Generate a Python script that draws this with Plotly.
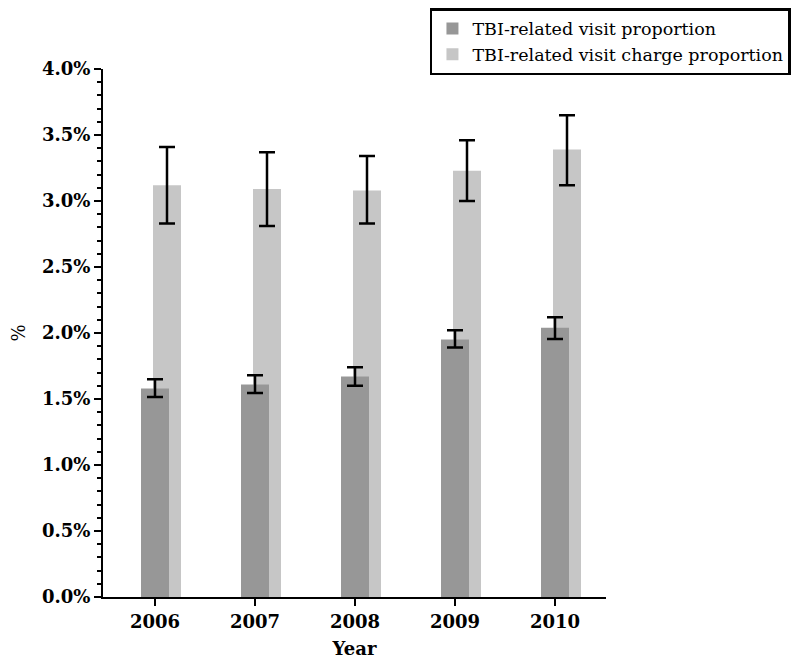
import plotly.graph_objects as go

years = ["2006", "2007", "2008", "2009", "2010"]
visit_prop = [1.58, 1.61, 1.67, 1.95, 2.04]
visit_err_plus = [0.07, 0.07, 0.07, 0.07, 0.08]
visit_err_minus = [0.065, 0.065, 0.07, 0.06, 0.085]
charge_prop = [3.12, 3.09, 3.08, 3.23, 3.39]
charge_err_plus = [0.29, 0.28, 0.26, 0.23, 0.26]
charge_err_minus = [0.29, 0.28, 0.25, 0.23, 0.27]
y_ticks = [0.0, 0.5, 1.0, 1.5, 2.0, 2.5, 3.0, 3.5, 4.0]
y_tick_labels = ["0.0%", "0.5%", "1.0%", "1.5%", "2.0%", "2.5%", "3.0%", "3.5%", "4.0%"]

serif = "DejaVu Serif"

fig = go.Figure()
fig.add_trace(go.Bar(
    x=years, y=charge_prop, name="TBI-related visit charge proportion",
    marker=dict(color="#c6c6c6", line=dict(width=0)),
    offset=-0.02, width=0.28, legendrank=2,
    error_y=dict(type="data", symmetric=False, array=charge_err_plus,
                 arrayminus=charge_err_minus, color="black", thickness=2.5, width=8),
))
fig.add_trace(go.Bar(
    x=years, y=visit_prop, name="TBI-related visit proportion",
    marker=dict(color="#979797", line=dict(width=0)),
    offset=-0.14, width=0.28, legendrank=1,
    error_y=dict(type="data", symmetric=False, array=visit_err_plus,
                 arrayminus=visit_err_minus, color="black", thickness=2.5, width=8),
))

fig.update_layout(
    width=792, height=653,
    barmode="overlay",
    plot_bgcolor="white", paper_bgcolor="white",
    margin=dict(l=95, r=194, t=61, b=64, autoexpand=False),
    font=dict(family=serif, color="black"),
    showlegend=True,
    legend=dict(
        x=0.650, y=1.1155, xanchor="left", yanchor="top",
        bordercolor="black", borderwidth=2.5, bgcolor="white",
        font=dict(family=serif, size=17.5, color="black"),
        traceorder="normal", itemsizing="constant", tracegroupgap=0,
    ),
    xaxis=dict(
        type="category", range=[-0.52, 4.51], automargin=False,
        showline=True, linecolor="black", linewidth=2,
        ticks="outside", ticklen=7, tickwidth=2, tickcolor="black",
        tickfont=dict(family=serif, size=18, color="black", weight="bold"),
        title=dict(text="Year", font=dict(family=serif, size=18, color="black", weight="bold"), standoff=12),
        showgrid=False, zeroline=False,
    ),
    yaxis=dict(
        range=[0, 4.0], automargin=False,
        tickmode="array", tickvals=y_ticks, ticktext=y_tick_labels,
        showline=True, linecolor="black", linewidth=2,
        ticks="outside", ticklen=7, tickwidth=2, tickcolor="black",
        minor=dict(dtick=0.1, ticks="outside", ticklen=4, tickwidth=2, tickcolor="black", showgrid=False),
        tickfont=dict(family=serif, size=18, color="black", weight="bold"),
        title=dict(text="%", font=dict(family=serif, size=18, color="black"), standoff=26),
        showgrid=False, zeroline=False,
    ),
)

fig.write_html("out.html")
